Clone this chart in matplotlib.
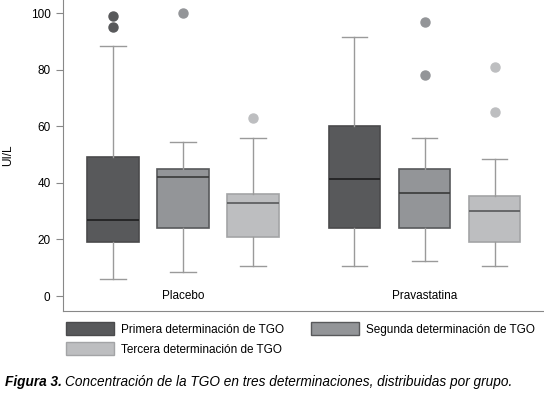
import matplotlib.pyplot as plt
from matplotlib.patches import Patch

plt.rcParams['font.family'] = ['Liberation Sans', 'DejaVu Sans']

groups = ["Placebo", "Pravastatina"]
series = ["Primera determinación de TGO", "Segunda determinación de TGO",
          "Tercera determinación de TGO"]
colors = ["#58595b", "#939598", "#bdbec0"]
edges = ["#4a4a4c", "#58595b", "#a3a4a6"]
medcols = ["#1e1e1e", "#3a3a3a", "#58595b"]

# [placebo, pravastatina] for each determination
whislo = [[6, 8.5, 10.5], [10.5, 12.5, 10.5]]
q1 = [[19, 24, 21], [24, 24, 19]]
med = [[27, 42, 33], [41.5, 36.5, 30]]
q3 = [[49, 45, 36], [60, 45, 35.5]]
whishi = [[88.5, 54.5, 56], [91.5, 56, 48.5]]
fliers = [[[99, 95], [100], [63]], [[], [97, 78], [81, 65]]]

group_x = [0, 3.45]

fig = plt.figure(figsize=(5.44, 3.93), dpi=100)
ax = fig.add_axes([63 / 544, 82 / 393, 481 / 544, 311 / 393])

for g in range(2):
    for k in range(3):
        st = dict(whislo=whislo[g][k], q1=q1[g][k], med=med[g][k],
                  q3=q3[g][k], whishi=whishi[g][k], fliers=fliers[g][k])
        ax.bxp([st], positions=[group_x[g] + k - 1], widths=0.73,
               patch_artist=True, showfliers=True,
               boxprops=dict(facecolor=colors[k], edgecolor=edges[k], linewidth=1.2),
               whiskerprops=dict(color="#9a9a9a", linewidth=1),
               capprops=dict(color="#9a9a9a", linewidth=1),
               medianprops=dict(color=medcols[k], linewidth=1.2),
               flierprops=dict(marker="o", markerfacecolor=colors[k],
                               markeredgecolor=colors[k], markersize=6.5))
    ax.text(group_x[g], 0, groups[g], ha="center", va="center", fontsize=8.5)

ax.set_xlim(-1.714, 5.157)
ax.set_ylim(-5.3, 104.6)
ax.set_xticks([])
ax.set_yticks([0, 20, 40, 60, 80, 100])
ax.tick_params(axis="y", labelsize=8.5, length=5, color="#888888", pad=4)
ax.set_ylabel("UI/L", fontsize=8.5, labelpad=12)
for s in ["top", "right"]:
    ax.spines[s].set_visible(False)
for s in ["left", "bottom"]:
    ax.spines[s].set_color("#888888")

handles = [Patch(facecolor=colors[i], edgecolor=edges[i], label=series[i]) for i in [0, 2, 1]]
fig.legend(handles=handles, ncol=2, loc="upper left", bbox_to_anchor=(66 / 544, 1 - 322 / 393),
           frameon=False, fontsize=8.5, handlelength=4.1, handleheight=1.35,
           handletextpad=0.55, columnspacing=2.3, labelspacing=0.55, borderpad=0,
           borderaxespad=0)

t1 = fig.text(5 / 544, 1 - 386 / 393, "Figura 3.", fontsize=9.8, fontstyle="italic",
              fontweight="bold")
fig.canvas.draw()
bb = t1.get_window_extent()
fig.text((bb.x1 + 3) / 544, 1 - 386 / 393,
         "Concentración de la TGO en tres determinaciones, distribuidas por grupo.",
         fontsize=9.8, fontstyle="italic")

fig.savefig("out.png", dpi=100)
